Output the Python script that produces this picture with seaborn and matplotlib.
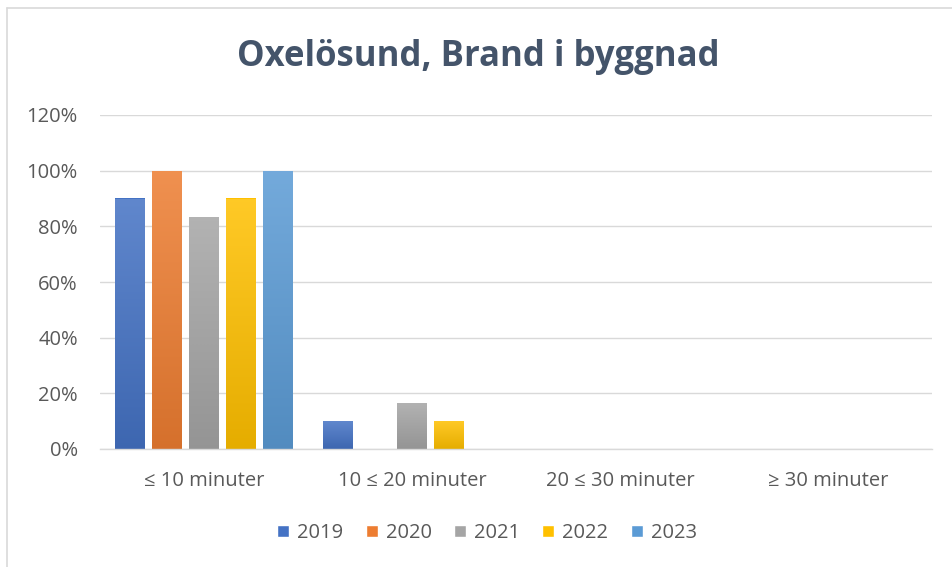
import numpy as np
import pandas as pd
import matplotlib
matplotlib.use("Agg")
import matplotlib.pyplot as plt
import matplotlib.colors as mcolors
from matplotlib.lines import Line2D
import seaborn as sns

categories = ["≤ 10 minuter", "10 ≤ 20 minuter", "20 ≤ 30 minuter", "≥ 30 minuter"]
years = ["2019", "2020", "2021", "2022", "2023"]
v2019 = [0.90, 0.10, 0.0, 0.0]
v2020 = [1.00, 0.0, 0.0, 0.0]
v2021 = [0.833, 0.167, 0.0, 0.0]
v2022 = [0.90, 0.10, 0.0, 0.0]
v2023 = [1.00, 0.0, 0.0, 0.0]
colors = ["#4472C4", "#ED7D31", "#A5A5A5", "#FFC000", "#5B9BD5"]
yticks = [0, 0.2, 0.4, 0.6, 0.8, 1.0, 1.2]
title = "Oxelösund, Brand i byggnad"

series = [v2019, v2020, v2021, v2022, v2023]
rows = []
for y, vals in zip(years, series):
    for c, v in zip(categories, vals):
        rows.append({"cat": c, "year": y, "val": v})
df = pd.DataFrame(rows)

sns.set_theme(style="white")
plt.rcParams["font.family"] = ["Open Sans", "DejaVu Sans"]

fig = plt.figure(figsize=(9.52, 5.67), dpi=100)
ax = fig.add_axes([100/952, 1-449/567, 832/952, 334/567])

sns.barplot(data=df, x="cat", y="val", hue="year", palette=colors,
            saturation=1, width=0.89, gap=0.19, ax=ax, legend=True, zorder=2)

# gradient fill for bars (lighter top, darker bottom)
for patch in list(ax.patches):
    h = patch.get_height()
    if h <= 0:
        continue
    x0 = patch.get_x(); w = patch.get_width()
    base = np.array(mcolors.to_rgb(patch.get_facecolor()))
    t = np.linspace(0, 1, 256)[:, None]
    light = base + (1 - base) * 0.15
    dark = base * 0.9
    grad = light[None, :] * (1 - t) + dark[None, :] * t
    img = grad[:, None, :]
    im = ax.imshow(img, extent=(x0, x0 + w, 0, h), aspect="auto",
                   origin="upper", zorder=2.5, interpolation="bilinear")
    im.set_clip_path(patch)
    patch.set_edgecolor((1, 1, 1, 0.0))

ax.set_xlim(-0.5, 3.5)
ax.set_ylim(0, 1.2)
ax.set_yticks(yticks)
ax.set_yticklabels([f"{int(round(t*100))}%" for t in yticks])
ax.yaxis.grid(True, color="#D9D9D9", linewidth=1.0, zorder=0)
ax.set_axisbelow(True)
for s in ["top", "right", "left"]:
    ax.spines[s].set_visible(False)
ax.spines["bottom"].set_color("#D9D9D9")
ax.spines["bottom"].set_linewidth(1.0)
ax.tick_params(axis="both", length=0, labelsize=14.5, colors="#595959")
ax.tick_params(axis="y", pad=16)
ax.tick_params(axis="x", pad=16)
ax.set_xlabel("")
ax.set_ylabel("")

fig.text(478/952, 1-57/567, title, ha="center", va="center",
         fontsize=25, fontweight="bold", color="#44546A")

leg = ax.legend(loc="center", bbox_to_anchor=(487/952, 1-533/567),
                bbox_transform=fig.transFigure, ncol=5, frameon=False,
                fontsize=14.5, handlelength=0.6, handleheight=0.6,
                handletextpad=0.4, columnspacing=1.1, labelcolor="#595959")

fig.add_artist(Line2D([7/952, 7/952], [0, 1-8/567], transform=fig.transFigure,
                      color="#D9D9D9", linewidth=1.2))
fig.add_artist(Line2D([7/952, 1], [1-8/567, 1-8/567], transform=fig.transFigure,
                      color="#D9D9D9", linewidth=1.2))

fig.savefig("out.png", dpi=100, facecolor="white")
